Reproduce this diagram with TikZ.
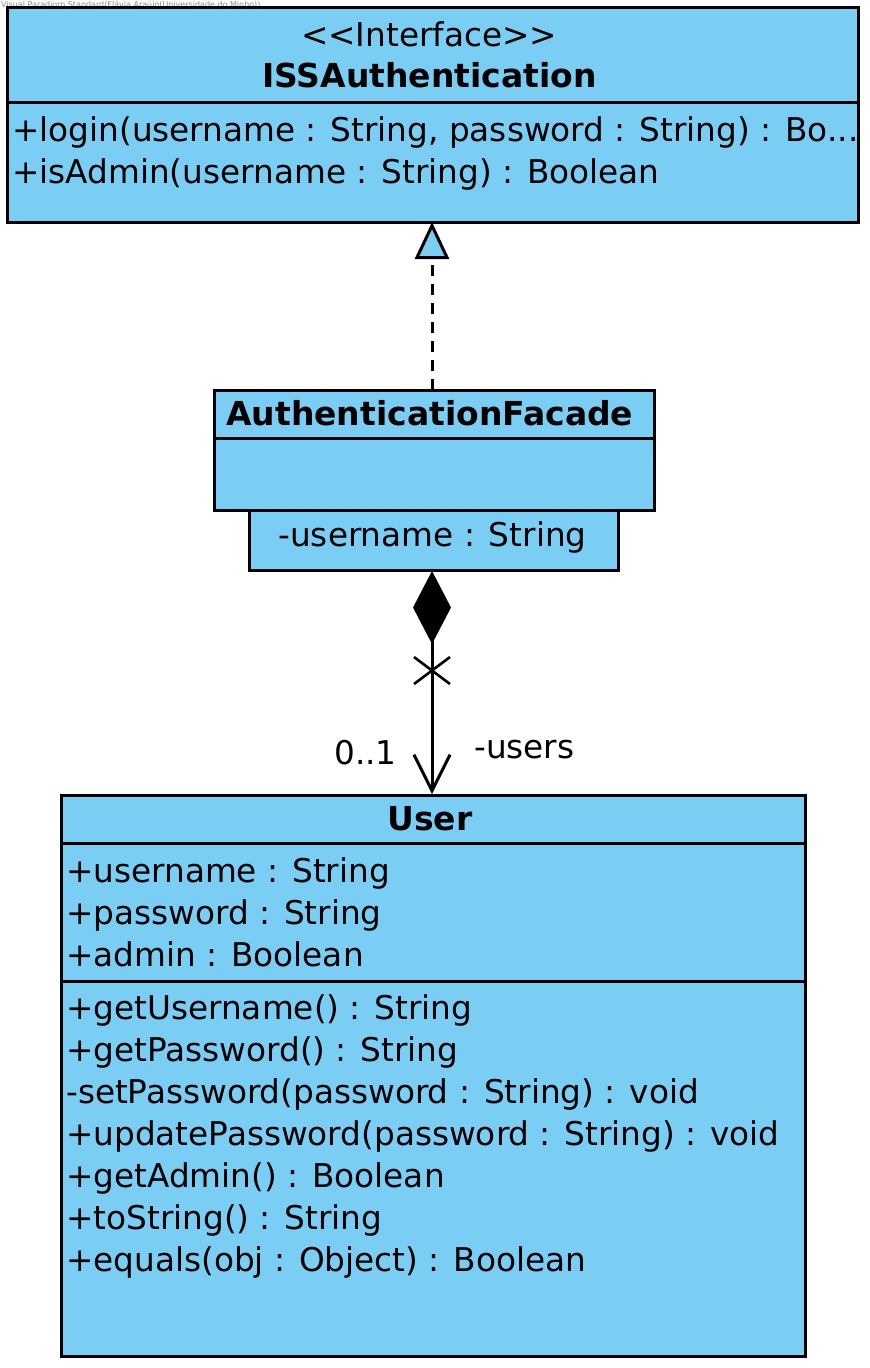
\documentclass[tikz,border=0pt]{standalone}
\usepackage{fontspec}
\setmainfont[Ligatures=NoCommon]{DejaVu Sans}
\usetikzlibrary{arrows.meta}
\definecolor{umlblue}{RGB}{122,206,244}
\begin{document}
\begin{tikzpicture}[x=1pt,y=-1pt,
  box/.style={draw=black, fill=umlblue, line width=3pt, inner sep=0pt, rectangle},
  sep/.style={draw=black, line width=3pt},
  txt/.style={font=\fontsize{32.7}{38}\selectfont, inner sep=0pt, anchor=base west},
  ctxt/.style={font=\fontsize{32.7}{38}\selectfont, inner sep=0pt, anchor=base},
  btxt/.style={font=\fontsize{33}{38}\selectfont\bfseries, inner sep=0pt, anchor=base},
  wmark/.style={font=\fontsize{8}{9}\selectfont, text=black!45, inner sep=0pt, anchor=base west},
  conn/.style={draw=black, line width=3pt}
]
\useasboundingbox (0,0) rectangle (870,1368);
\fill[white] (0,0) rectangle (870,1368);

% watermark
\node[wmark] (wm) at (1,7) {Visual Paradigm Standard(Flávia Araújo(Universidade do Minho))};

% ISSAuthentication interface
\node[box, minimum width=851pt, minimum height=215pt] (iss) at (432.5,114.5) {};
\draw[sep] (7,102) -- (858,102);
\node[ctxt] (isst) at (429,46) {<{}<Interface>{}>};
\node[btxt] (issn) at (429.5,87) {ISSAuthentication};
\node[txt] (m1) at (12,141.5) {+login(username : String, password : String) : Bo...};
\node[txt] (m2) at (12,183.5) {+isAdmin(username : String) : Boolean};

% AuthenticationFacade
\node[box, minimum width=369pt, minimum height=60pt] (facsub) at (433.5,540) {};
\node[box, minimum width=440pt, minimum height=120pt] (fac) at (434,450) {};
\draw[sep] (214,438) -- (654,438);
\node[btxt, anchor=base west] (facn) at (226,425) {AuthenticationFacade};
\node[ctxt] (faca) at (432.5,546) {-username : String};

% User
\node[box, minimum width=744pt, minimum height=561pt] (user) at (433,1075.5) {};
\draw[sep] (61,843) -- (805,843);
\draw[sep] (61,981) -- (805,981);
\node[btxt] (usern) at (430,830) {User};
\node[txt] (a1) at (66,882) {+username : String};
\node[txt] (a2) at (66,924) {+password : String};
\node[txt] (a3) at (66,966) {+admin : Boolean};
\node[txt] (o1) at (66,1019) {+getUsername() : String};
\node[txt] (o2) at (66,1061) {+getPassword() : String};
\node[txt] (o3) at (66,1103) {-setPassword(password : String) : void};
\node[txt] (o4) at (66,1145) {+updatePassword(password : String) : void};
\node[txt] (o5) at (66,1187) {+getAdmin() : Boolean};
\node[txt] (o6) at (66,1229) {+toString() : String};
\node[txt] (o7) at (66,1271) {+equals(obj : Object) : Boolean};

% realization
\coordinate (rtop) at (432,222);
\coordinate (rbot) at (432,390);
\draw[conn, dash pattern=on 11pt off 8pt,
  -{Triangle[length=37pt, width=34pt, fill=umlblue, line width=3pt]}]
  (rbot) -- (rtop);

% composition / association
\coordinate (cs) at (432,571);
\coordinate (ce) at (432,794);
\draw[conn,
  {Diamond[length=73pt, width=38pt, line width=0pt]}-{Straight Barb[length=36pt, width=36pt, line width=3pt]}]
  (cs) -- (ce);
\draw[conn, line width=2.6pt] (414,657) -- (450,684);
\draw[conn, line width=2.6pt] (414,684) -- (450,657);
\node[txt] (mult) at (334,764) {0..1};
\node[txt] (role) at (474,758) {-users};
\end{tikzpicture}
\end{document}
